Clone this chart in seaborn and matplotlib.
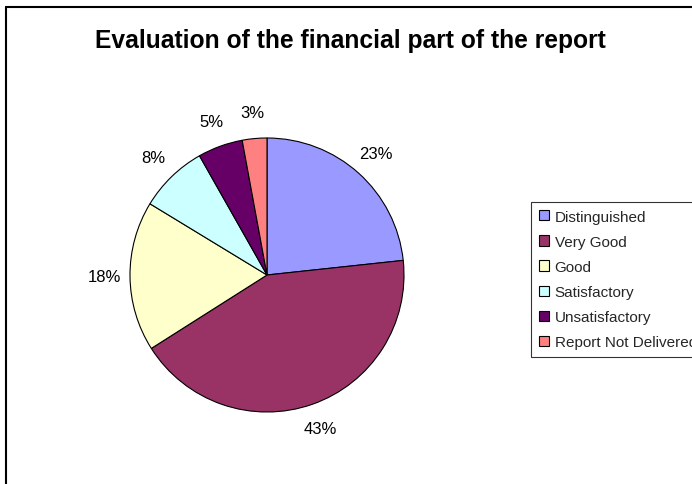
import matplotlib
matplotlib.use("Agg")
import matplotlib.pyplot as plt
import seaborn as sns
from matplotlib.lines import Line2D
from matplotlib.patches import Patch

categories = ["Distinguished", "Very Good", "Good", "Satisfactory",
              "Unsatisfactory", "Report Not Delivered"]
values = [23.3, 42.7, 17.7, 8.1, 5.3, 2.9]
colors = ["#9999FF", "#993366", "#FFFFCC", "#CCFFFF", "#660066", "#FF8080"]
title = "Evaluation of the financial part of the report"

sns.set_theme(style="white")
plt.rcParams["font.family"] = ["Liberation Sans", "DejaVu Sans"]

W, H = 692, 485
fig = plt.figure(figsize=(W / 100, H / 100), dpi=100)
fig.patch.set_facecolor("white")

cx, cy, r = 267, 276, 137
ax = fig.add_axes([(cx - r) / W, (H - cy - r) / H, 2 * r / W, 2 * r / H])
wedges, texts, autotexts = ax.pie(
    values, colors=colors, startangle=90, counterclock=False,
    autopct=lambda p: f"{p:.0f}%", pctdistance=1.19,
    wedgeprops=dict(edgecolor="black", linewidth=0.8),
    textprops=dict(fontsize=12, color="black"))
ax.set_xlim(-1, 1)
ax.set_ylim(-1, 1)
ax.axis("off")

fig.text(350 / W, 1 - 41 / H, title, ha="center", va="center",
         fontsize=17.7, fontweight="bold", color="black")

# frame (cropped chart area border)
fig.add_artist(Line2D([6 / W, 6 / W], [0, 1 - 8 / H], color="black",
                      linewidth=1.5, transform=fig.transFigure))
fig.add_artist(Line2D([6 / W, 1], [1 - 8 / H, 1 - 8 / H], color="black",
                      linewidth=1.5, transform=fig.transFigure))

handles = [Patch(facecolor=c, edgecolor="black", linewidth=0.8) for c in colors]
leg = fig.legend(handles, categories, loc="upper left",
                 bbox_to_anchor=(531 / W, 1 - 203 / H),
                 frameon=True, fancybox=False, fontsize=11,
                 handlelength=0.65, handleheight=0.65, handletextpad=0.4,
                 labelspacing=0.73, borderpad=0.5, borderaxespad=0)
leg.get_frame().set_edgecolor("black")
leg.get_frame().set_linewidth(0.8)

fig.savefig("out.png", dpi=100, facecolor="white")
